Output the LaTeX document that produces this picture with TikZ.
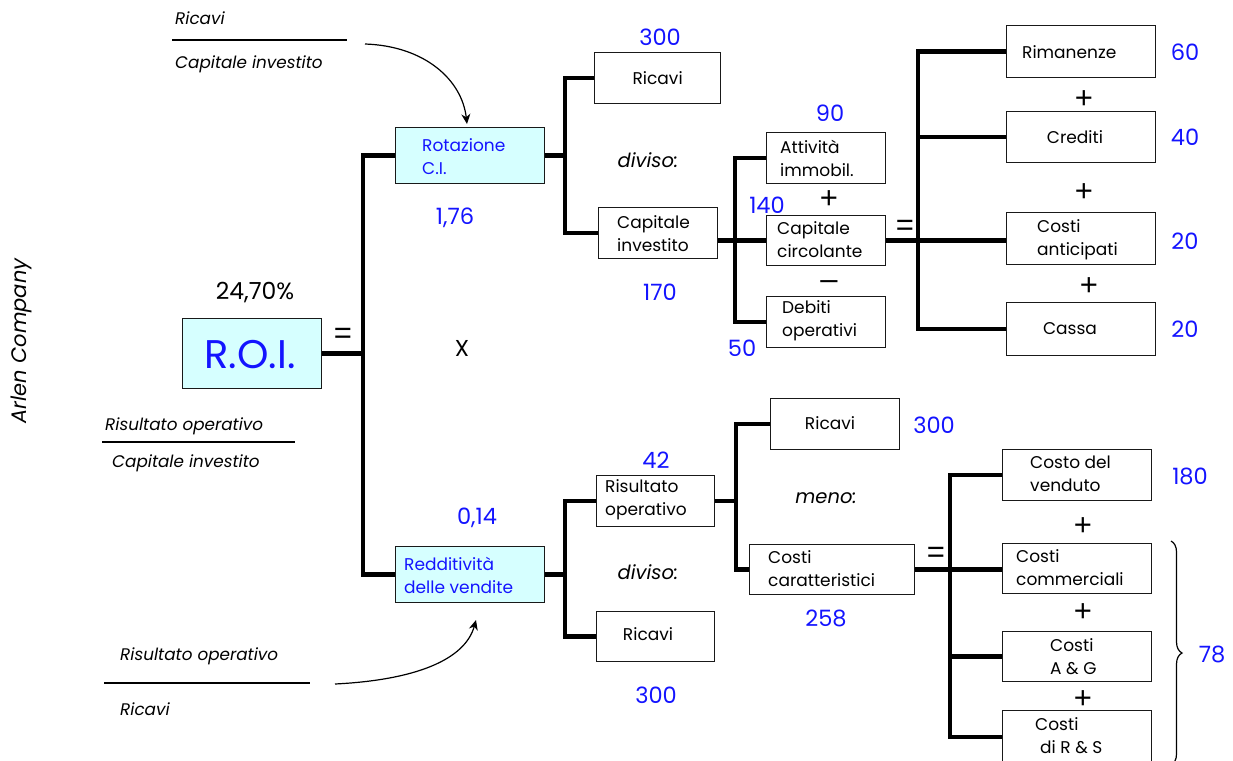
\documentclass[tikz,border=0pt]{standalone}
\usepackage{fontspec}
\setmainfont{Poppins}
\newfontfamily\opfont{Liberation Sans}
\usetikzlibrary{decorations.pathreplacing,arrows.meta}
\definecolor{numblue}{RGB}{20,20,255}
\definecolor{boxcyan}{RGB}{214,255,255}
\tikzset{
  box/.style={draw=black!90, line width=1.3pt, inner sep=0pt},
  conn/.style={line width=4.5pt, line join=miter},
  fracbar/.style={line width=1.2pt},
  curvearrow/.style={line width=1.2pt, -{Stealth[length=10pt,width=9pt]}},
  txt/.style={inner sep=0pt, align=left, font=\fontsize{17}{23}\selectfont},
  btxt/.style={txt, text=numblue},
  num/.style={inner sep=0pt, text=numblue, font=\fontsize{22.5}{24}\selectfont},
  ital/.style={inner sep=0pt, font=\fontsize{16.8}{20}\selectfont\itshape},
  midital/.style={inner sep=0pt, font=\fontsize{19.5}{20}\selectfont\itshape},
  op/.style={inner sep=0pt, font=\opfont\fontsize{31}{31}\selectfont},
}
% \rbox[fill]{x1}{y1}{x2}{y2}{name}: rectangle given by its corners
\newcommand\rbox[6][white]{%
  \node[box, fill=#1, minimum width={(#4-#2)*1pt}, minimum height={(#5-#3)*1pt},
        anchor=north west] (#6) at (#2,#3) {};}
\begin{document}
\begin{tikzpicture}[x=1pt,y=-1pt]
\useasboundingbox[fill=white] (0,0) rectangle (1233,760);

% side title
\node[rotate=90, inner sep=0pt, font=\fontsize{21}{21}\selectfont\itshape] (arlen) at (21,341) {Arlen Company};

% ---------- ROI ----------
\rbox[boxcyan]{182}{318}{321}{388}{roi}
\node[inner sep=0pt, text=numblue, font=\fontsize{40}{40}\selectfont] (roi-t) at (250,355) {R.O.I.};
\node[inner sep=0pt, font=\fontsize{23.5}{24}\selectfont] (roi-v) at (255,293) {24,70\%};
\node[op] (eq1) at (343,336) {=};
\node[inner sep=0pt, font=\fontsize{23}{23}\selectfont] (times) at (462,348) {X};

\node[ital, anchor=west] (f2n) at (105,426) {Risultato operativo};
\draw[fracbar] (102,442) -- (295,442);
\node[ital, anchor=west] (f2d) at (112,463) {Capitale investito};

% ---------- upper branch ----------
\node[ital, anchor=west] (f1n) at (175,18) {Ricavi};
\draw[fracbar] (172,40) -- (347,40);
\node[ital, anchor=west] (f1d) at (175,64) {Capitale investito};

\rbox[boxcyan]{395}{127}{544}{183}{rot}
\node[btxt, anchor=west] (rot-t) at (422,157) {Rotazione\\C.I.};
\node[num] (rot-v) at (455,218) {1,76};

\coordinate (a1s) at (365,44);
\coordinate (a1e) at (467,124);
\draw[curvearrow] (a1s) .. controls (425,46) and (462,80) .. (a1e);

\rbox{594}{52}{720}{103}{ricA}
\node[txt] (ricA-t) at (ricA.center) {Ricavi};
\node[num] (ricA-v) at (660,37) {300};
\node[midital] (div1) at (648,160) {diviso:};

\rbox{598}{207}{717}{258}{capI}
\node[txt, anchor=west] (capI-t) at (617,234) {Capitale\\investito};
\node[num] (capI-v) at (660,292) {170};

\rbox{766}{132}{885}{183}{att}
\node[txt, anchor=west] (att-t) at (780,158) {Attività\\immobil.};
\node[num] (att-v) at (830,113) {90};
\node[op] (pl1) at (829,200) {+};
\node[num] (circ-v) at (767,205) {140};

\rbox{766}{215}{885}{265}{circ}
\node[txt, anchor=west] (circ-t) at (777,240) {Capitale\\circolante};
\node[op] (mi1) at (829,285) {–};

\rbox{766}{296}{885}{347}{deb}
\node[txt, anchor=west] (deb-t) at (782,321) {Debiti\\operativi};
\node[num] (deb-v) at (742,348) {50};
\node[op] (eq2) at (905,228) {=};

\rbox{1006}{25}{1155}{77}{rim}
\node[txt, anchor=west] (rim-t) at (1022,52) {Rimanenze};
\node[num] (rim-v) at (1185,52) {60};
\node[op] (pl2) at (1084,100) {+};

\rbox{1006}{111}{1155}{162}{cred}
\node[txt] (cred-t) at (1075,137) {Crediti};
\node[num] (cred-v) at (1185,137) {40};
\node[op] (pl3) at (1084,193) {+};

\rbox{1006}{212}{1155}{264}{ant}
\node[txt, anchor=west] (ant-t) at (1037,240) {Costi\\anticipati};
\node[num] (ant-v) at (1185,241) {20};
\node[op] (pl4) at (1089,287) {+};

\rbox{1006}{302}{1155}{355}{cassa}
\node[txt] (cassa-t) at (1070,329) {Cassa};
\node[num] (cassa-v) at (1185,329) {20};

% ---------- lower branch ----------
\rbox[boxcyan]{395}{546}{544}{602}{red}
\node[btxt, anchor=west] (red-t) at (404,575) {Redditività\\delle vendite};
\node[num] (red-v) at (477,518) {0,14};

\node[ital, anchor=west] (f3n) at (120,656) {Risultato operativo};
\draw[fracbar] (104,683) -- (310,683);
\node[ital, anchor=west] (f3d) at (120,709) {Ricavi};

\coordinate (a2s) at (335,684);
\coordinate (a2e) at (476,620);
\draw[curvearrow] (a2s) .. controls (415,680) and (465,660) .. (a2e);

\rbox{596}{475}{714}{526}{risop}
\node[txt, anchor=west] (risop-t) at (605,500) {Risultato\\operativo};
\node[num] (risop-v) at (656,460) {42};
\node[midital] (div2) at (648,572) {diviso:};

\rbox{596}{611}{714}{661}{ricB}
\node[txt] (ricB-t) at (648,634) {Ricavi};
\node[num] (ricB-v) at (656,695) {300};

\rbox{770}{398}{899}{449}{ricC}
\node[txt] (ricC-t) at (830,423) {Ricavi};
\node[num] (ricC-v) at (934,425) {300};
\node[midital] (meno) at (826,498) {meno:};

\rbox{749}{544}{914}{594}{ccar}
\node[txt, anchor=west] (ccar-t) at (768,569) {Costi\\caratteristici};
\node[num] (ccar-v) at (826,618) {258};
\node[op] (eq3) at (936,555) {=};

\rbox{1002}{449}{1151}{500}{cven}
\node[txt, anchor=west] (cven-t) at (1030,474) {Costo del\\venduto};
\node[num] (cven-v) at (1190,476) {180};
\node[op] (pl5) at (1083,527) {+};

\rbox{1002}{543}{1151}{593}{ccom}
\node[txt, anchor=west] (ccom-t) at (1016,568) {Costi\\commerciali};
\node[op] (pl6) at (1083,613) {+};

\rbox{1002}{631}{1151}{681}{cag}
\node[txt, anchor=west] (cag-t) at (1050,657) {Costi\\A \& G};
\node[op] (pl7) at (1083,700) {+};

\rbox{1002}{710}{1151}{763}{crs}
\node[txt, anchor=west] (crs-t) at (1035,736) {Costi\\\hspace{5pt}di R \& S};

\draw[line width=1.2pt, decorate, decoration={brace, amplitude=11pt}] (1171,541) -- (1171,765);
\node[num] (tot-v) at (1212,654) {78};

% ---------- connectors ----------
\coordinate (busL) at (363,350);
\coordinate (j1) at (565,0);
\coordinate (j2) at (735,0);
\coordinate (j3) at (918,0);
\coordinate (j4) at (736,0);
\coordinate (j5) at (950,0);

\draw[conn] (rot.west) -| (busL |- red.west) -- (red.west);
\draw[conn] (roi.east) -- (roi.east -| busL);

\draw[conn] (rot.east) -- (rot.east -| j1);
\draw[conn] (ricA.west) -| (j1 |- capI.west) -- (capI.west);

\draw[conn] (capI.east |- circ.west) -- (circ.west);
\draw[conn] (att.west) -| (j2 |- deb.west) -- (deb.west);

\draw[conn] (circ.east) -- (circ.east -| ant.west);
\draw[conn] (rim.west) -| (j3 |- cassa.west) -- (cassa.west);
\draw[conn] (cred.west) -- (cred.west -| j3);

\draw[conn] (red.east) -- (red.east -| j1);
\draw[conn] (risop.west) -| (j1 |- ricB.west) -- (ricB.west);

\draw[conn] (risop.east) -- (risop.east -| j4);
\draw[conn] (ricC.west) -| (j4 |- ccar.west) -- (ccar.west);

\draw[conn] (ccar.east) -- (ccar.east -| ccom.west);
\draw[conn] (cven.west) -| (j5 |- crs.west) -- (crs.west);
\draw[conn] (cag.west) -- (cag.west -| j5);
\end{tikzpicture}
\end{document}
